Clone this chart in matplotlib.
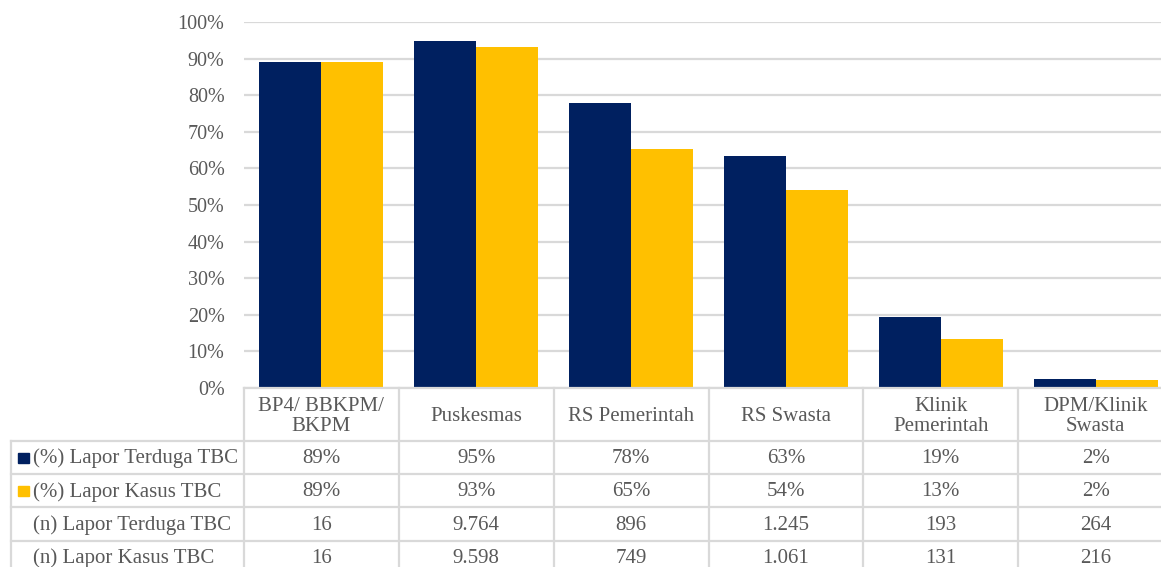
import matplotlib
matplotlib.use("Agg")
import matplotlib.pyplot as plt
import numpy as np

categories = ["BP4/ BBKPM/\nBKPM", "Puskesmas", "RS Pemerintah", "RS Swasta",
              "Klinik\nPemerintah", "DPM/Klinik\nSwasta"]
pct_terduga = [0.891, 0.949, 0.779, 0.634, 0.195, 0.025]
pct_kasus = [0.891, 0.933, 0.653, 0.541, 0.133, 0.021]
pct_terduga_lbl = ["89%", "95%", "78%", "63%", "19%", "2%"]
pct_kasus_lbl = ["89%", "93%", "65%", "54%", "13%", "2%"]
n_terduga = ["16", "9.764", "896", "1.245", "193", "264"]
n_kasus = ["16", "9.598", "749", "1.061", "131", "216"]
row_labels = ["(%) Lapor Terduga TBC", "(%) Lapor Kasus TBC",
              "(n) Lapor Terduga TBC", "(n) Lapor Kasus TBC"]
yticks = np.arange(0, 1.01, 0.1)

NAVY = "#002060"
GOLD = "#FFC000"
GRID = "#D9D9D9"
TXT = "#595959"
FONT = ["Liberation Serif", "DejaVu Serif"]
FS = 15

W, H = 1161, 567
fig = plt.figure(figsize=(W / 100, H / 100), dpi=100)

# layout in pixels
ax_left, ax_right = 244, 1173
ax_top, ax_bot = 22, 388
ax = fig.add_axes([ax_left / W, 1 - ax_bot / H, (ax_right - ax_left) / W, (ax_bot - ax_top) / H])

x = np.arange(len(categories))
bw = 0.4
ax.bar(x - bw / 2, pct_terduga, bw, color=NAVY, zorder=3)
ax.bar(x + bw / 2, pct_kasus, bw, color=GOLD, zorder=3)
ax.set_xlim(-0.5, len(categories) - 0.5)
ax.set_ylim(0, 1.0)
ax.set_yticks(yticks)
ax.set_yticklabels([f"{int(round(v*100))}%" for v in yticks], fontsize=14.5, color=TXT, family=FONT)
ax.tick_params(axis="y", length=0, pad=14)
ax.tick_params(axis="x", length=0, labelbottom=False)
ax.grid(axis="y", color=GRID, linewidth=1.6, zorder=0)
for s in ax.spines.values():
    s.set_visible(False)

# table drawn in pixel coordinates
tb = fig.add_axes([0, 0, 1, 1])
tb.set_xlim(0, W)
tb.set_ylim(H, 0)
tb.axis("off")
tb.patch.set_alpha(0)

colw = (ax_right - ax_left) / len(categories)
col_edges = [ax_left + i * colw for i in range(len(categories) + 1)]
left_edge = 11
header_top, header_bot = ax_bot, 441
row_h = 33.2
row_tops = [header_bot + i * row_h for i in range(5)]
bottom = H + 10

lw = 1.6
# horizontal lines
tb.plot([ax_left, ax_right], [header_top, header_top], color=GRID, lw=lw, clip_on=False)
for yy in row_tops[:4]:
    tb.plot([left_edge, ax_right], [yy, yy], color=GRID, lw=lw)
# vertical lines
for i, xe in enumerate(col_edges):
    tb.plot([xe, xe], [header_top, bottom], color=GRID, lw=lw)
tb.plot([left_edge, left_edge], [header_bot, bottom], color=GRID, lw=lw)

# header labels
for i, c in enumerate(categories):
    cx = (col_edges[i] + col_edges[i + 1]) / 2
    tb.text(cx, (header_top + header_bot) / 2 + 2, c, ha="center", va="center",
            fontsize=FS, color=TXT, family=FONT, linespacing=1.12)

rows = [pct_terduga_lbl, pct_kasus_lbl, n_terduga, n_kasus]
for r, (lab, vals) in enumerate(zip(row_labels, rows)):
    cy = row_tops[r] + row_h / 2 + 1
    tb.text(33, cy, lab, ha="left", va="center", fontsize=FS, color=TXT, family=FONT)
    for i, v in enumerate(vals):
        cx = (col_edges[i] + col_edges[i + 1]) / 2
        tb.text(cx, cy, v, ha="center", va="center", fontsize=FS, color=TXT, family=FONT)

# legend keys
from matplotlib.patches import Rectangle
for r, col in enumerate([NAVY, GOLD]):
    cy = row_tops[r] + row_h / 2
    tb.add_patch(Rectangle((18, cy - 5), 10.5, 10.5, color=col))

fig.savefig("out.png", dpi=100)
